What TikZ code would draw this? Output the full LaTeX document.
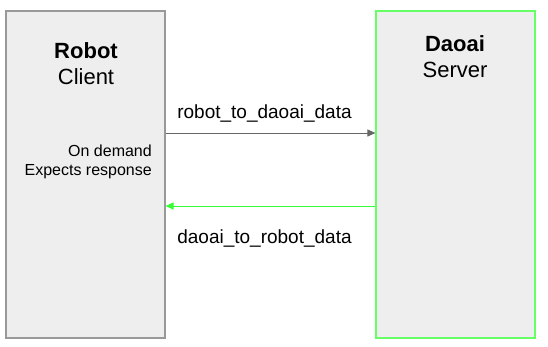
\documentclass[tikz,border=0pt]{standalone}
\usepackage{fontspec}
\setmainfont{Liberation Sans}
\usetikzlibrary{arrows.meta,positioning}
\definecolor{panel}{HTML}{EEEEEE}
\definecolor{lime}{HTML}{66FF66}
\tikzset{side/.style={draw=black!40,fill=panel,line width=1.2pt,minimum width=159pt,minimum height=327pt,inner sep=0pt},
 srv/.style={side,draw=lime,minimum width=159pt},
 title/.style={align=center,font=\fontsize{22}{26}\selectfont},
 note/.style={align=right,font=\fontsize{16}{19}\selectfont,inner sep=0pt},
 lbl/.style={font=\fontsize{19}{22}\selectfont},
 arr/.style={-{Triangle[length=8pt,width=7pt]},draw=black!60,line width=1pt},
 back/.style={arr,draw=green!80!white}}
\begin{document}
\begin{tikzpicture}[x=1pt,y=-1pt]
\useasboundingbox (0,0) rectangle (548,346);
\node[side] (robot) at (85.5,174.5) {};
\node[srv] (daoai) at (455.5,174.5) {};
\node[title] (rt) at (86,64) {\textbf{Robot}\\Client};
\node[title] (dt) at (455,57) {\textbf{Daoai}\\Server};
\node[note,anchor=east] (mode) at (152,161.5) {On demand\\Expects response};
\coordinate (r1) at (robot.east |- 0,133);
\coordinate (d1) at (daoai.west |- 0,133);
\coordinate (r2) at (robot.east |- 0,206);
\coordinate (d2) at (daoai.west |- 0,206);
\node[lbl] (out) at (264.5,113) {robot\_to\_daoai\_data};
\node[lbl] (in) at (264.5,238) {daoai\_to\_robot\_data};
\draw[arr] (r1)--(d1);
\draw[back] (d2)--(r2);
\end{tikzpicture}
\end{document}
